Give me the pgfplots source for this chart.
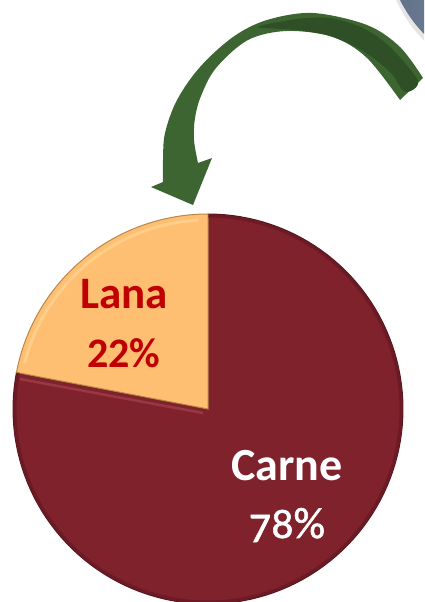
\documentclass[border=0pt]{standalone}
\usepackage{fontspec}
\setmainfont{Carlito}
\newfontfamily\oldnum[Numbers=OldStyle, FakeBold=1.3]{Carlito}
\usepackage{pgfplots}
\usepackage{pgfplotstable}
\pgfplotsset{compat=1.18}
\definecolor{carnecol}{HTML}{80222C}
\definecolor{carneedge}{HTML}{5A1620}
\definecolor{carnelight}{HTML}{B04A58}
\definecolor{lanacol}{HTML}{FFBF72}
\definecolor{lanaedge}{HTML}{B8874A}
\definecolor{lanalight}{HTML}{FFD390}
\definecolor{lanatext}{HTML}{C00000}
\definecolor{arrowgreen}{HTML}{3D6531}
\definecolor{arrowdark}{HTML}{2F5026}
\definecolor{circA}{HTML}{5F7088}
\definecolor{circB}{HTML}{95A3B6}

\pgfplotstableread{
label value
Lana 22
Carne 78
}\piedata

\begin{document}
\begin{tikzpicture}
\pgfplotstablegetelem{0}{value}\of\piedata
\pgfmathsetmacro{\lanaend}{90+3.6*\pgfplotsretval}
\path[use as bounding box] (0,0) rectangle (424pt,602pt);
\begin{axis}[
  x=1pt, y=1pt, y dir=reverse,
  xmin=0, xmax=424, ymin=0, ymax=602,
  hide axis, clip=true,
  at={(0,0)}, anchor=south west,
]
% gray circle top right, with soft shadow
\fill[black!10] (axis cs:523,-57) circle[radius=139pt];
\shade[left color=circA, right color=circB] (axis cs:521,-60) circle[radius=135pt];
% arrow
\fill[arrowgreen]
  plot[smooth, tension=0.55] coordinates {(423,78) (400,47) (367,25) (313,13) (267,20) (233,37) (200,67) (177,100) (165,133) (163,160) (163,182)}
  -- (151,187) -- (193,205) -- (212,158)
  -- plot[smooth, tension=0.55] coordinates {(198,163) (194,140) (195,118) (201,96) (216,68) (248,40) (287,31) (333,37) (367,58) (400,100)}
  -- cycle;
\fill[arrowdark]
  plot[smooth cycle, tension=0.5] coordinates {(258,27) (297,19) (330,18) (363,28) (390,47) (418,81) (405,92) (390,72) (363,51) (330,36) (297,30)};
% pie slices
\addplot[fill=carnecol, draw=carneedge, line width=1pt, domain=\lanaend:450, samples=120, variable=\t]
  ({208+195*cos(\t)},{409-195*sin(\t)}) -- (axis cs:208,409) -- cycle;
\addplot[fill=lanacol, draw=lanaedge, line width=1pt, domain=90:\lanaend, samples=60, variable=\t]
  ({208+195*cos(\t)},{409-195*sin(\t)}) -- (axis cs:208,409) -- cycle;
% bevel touches
\draw[carnelight, line width=2.5pt, opacity=0.55] (axis cs:20,379) -- (axis cs:203,413);
\addplot[draw=lanalight, line width=3pt, opacity=0.8, domain=93:166, samples=40, variable=\t]
  ({208+189*cos(\t)},{409-189*sin(\t)});
\addplot[draw=carneedge, line width=3pt, opacity=0.5, domain=\lanaend:450, samples=120, variable=\t]
  ({208+193*cos(\t)},{409-193*sin(\t)});
% labels
\node[anchor=base, text=lanatext, font=\bfseries\fontsize{45}{50}\selectfont] at (axis cs:124,308) {Lana};
\node[anchor=base, text=lanatext, font=\bfseries\fontsize{42}{48}\selectfont] at (axis cs:124,367) {22\%};
\node[anchor=base, text=white, font=\bfseries\fontsize{46}{52}\selectfont] at (axis cs:287,480) {Carne};
\node[anchor=base, text=white, font=\oldnum\fontsize{44}{50}\selectfont] at (axis cs:287,538) {78\%};
\end{axis}
\end{tikzpicture}
\end{document}
